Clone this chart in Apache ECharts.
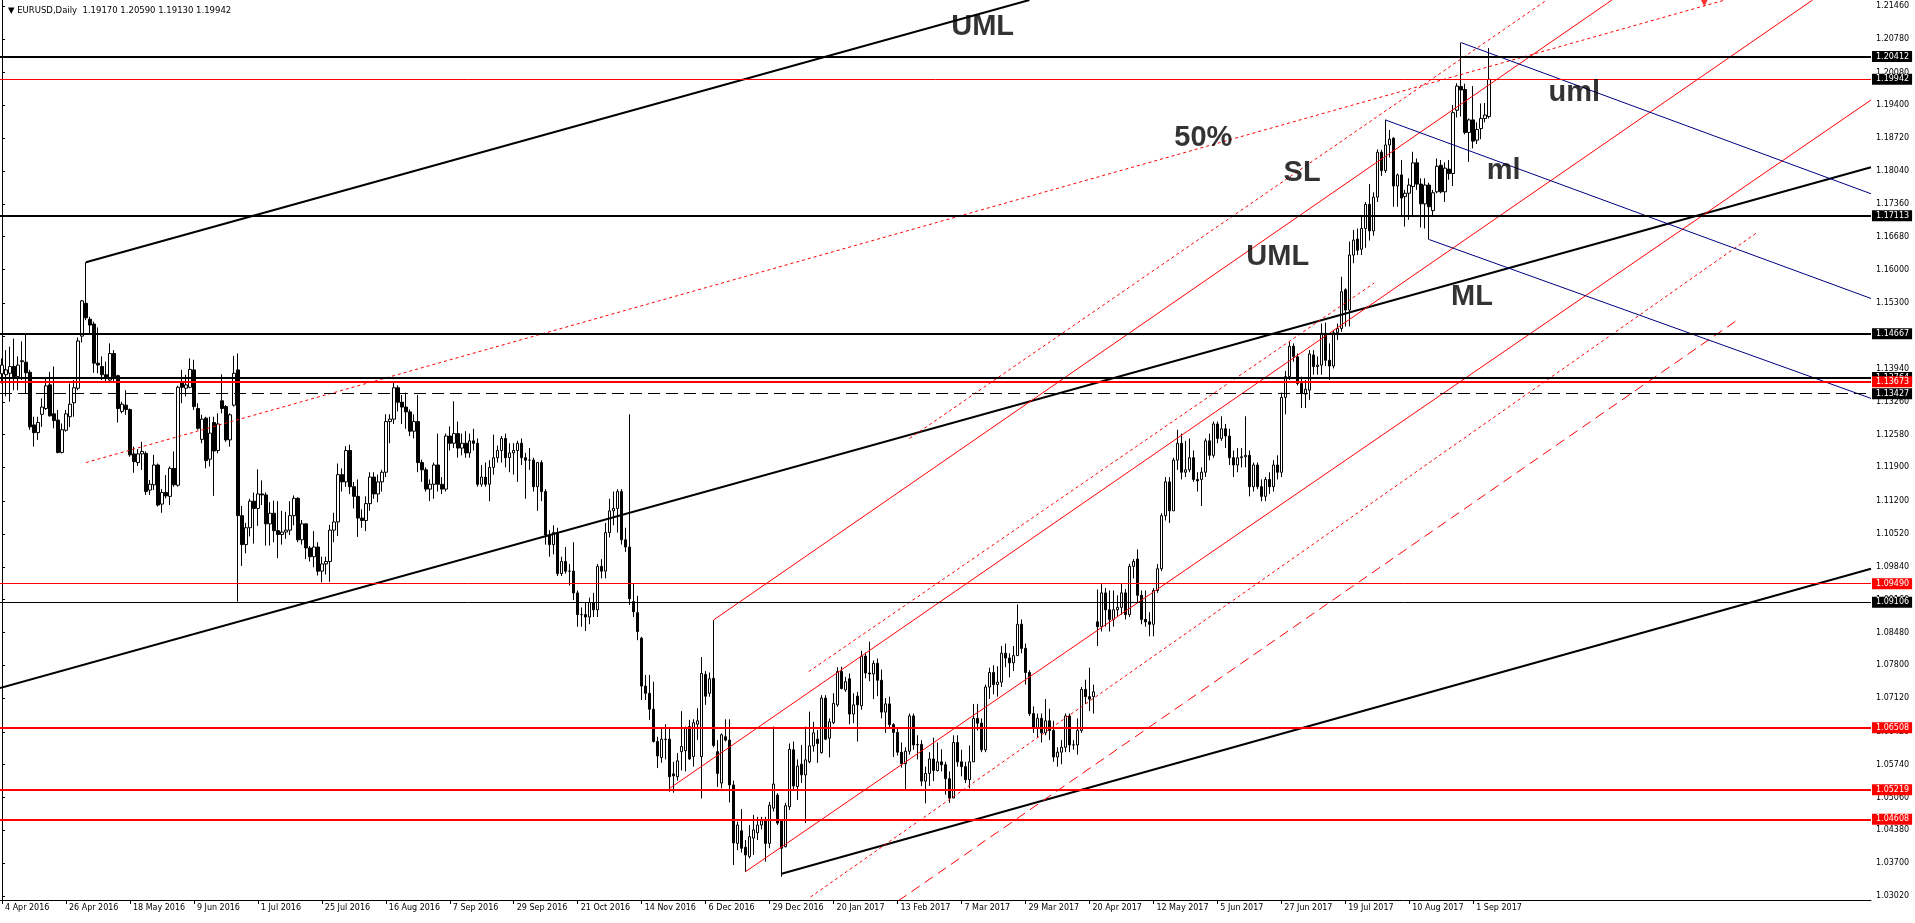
<!DOCTYPE html>
<html><head><meta charset="utf-8">
<script src="https://cdn.jsdelivr.net/npm/echarts@6/dist/echarts.min.js"></script>
<style>html,body{margin:0;padding:0;background:#fff;}#c{width:1915px;height:923px;}</style>
</head><body><div id="c"></div>
<script>
// ---------------- DATA ----------------
const titleText = '\u25BC EURUSD,Daily  1.19170 1.20590 1.19130 1.19942';
const xTickLabels = ['4 Apr 2016','26 Apr 2016','18 May 2016','9 Jun 2016','1 Jul 2016','25 Jul 2016','16 Aug 2016','7 Sep 2016','29 Sep 2016','21 Oct 2016','14 Nov 2016','6 Dec 2016','29 Dec 2016','20 Jan 2017','13 Feb 2017','7 Mar 2017','29 Mar 2017','20 Apr 2017','12 May 2017','5 Jun 2017','27 Jun 2017','19 Jul 2017','10 Aug 2017','1 Sep 2017'];
const yTickValues = [1.03020,1.03700,1.04380,1.05060,1.05740,1.06420,1.07120,1.07800,1.08480,1.09160,1.09840,1.10520,1.11200,1.11900,1.12580,1.13260,1.13940,1.14620,1.15300,1.16000,1.16680,1.17360,1.18040,1.18720,1.19400,1.20080,1.20780,1.21460];

// daily bars [open, high, low, close]
const bars2016Q2 = [
[1.1384,1.1416,1.1364,1.1402],[1.1382,1.1433,1.1337,1.1392],[1.1385,1.1440,1.1326,1.1399],[1.1399,1.1457,1.1350,1.1378],[1.1378,1.1420,1.1350,1.1402],
[1.1409,1.1451,1.1371,1.1411],[1.1408,1.1468,1.1344,1.1386],[1.1387,1.1392,1.1268,1.1274],[1.1278,1.1295,1.1233,1.1262],[1.1262,1.1295,1.1247,1.1283],
[1.1300,1.1333,1.1274,1.1315],[1.1312,1.1375,1.1309,1.1359],[1.1361,1.1388,1.1295,1.1297],[1.1301,1.1399,1.1271,1.1287],[1.1288,1.1309,1.1219,1.1221],
[1.1221,1.1281,1.1219,1.1268],[1.1267,1.1309,1.1264,1.1301],[1.1295,1.1364,1.1274,1.1321],[1.1324,1.1371,1.1295,1.1355],[1.1354,1.1459,1.1350,1.1452],
[1.1462,1.1537,1.1449,1.1535],[1.1530,1.1615,1.1495,1.1500],[1.1497,1.1502,1.1468,1.1485],[1.1487,1.1492,1.1386,1.1406],[1.1406,1.1480,1.1385,1.1402],
[1.1399,1.1420,1.1371,1.1382],[1.1382,1.1409,1.1368,1.1375],[1.1371,1.1447,1.1368,1.1426],[1.1426,1.1433,1.1368,1.1378],[1.1380,1.1382,1.1283,1.1312],
[1.1306,1.1326,1.1302,1.1321],[1.1319,1.1350,1.1299,1.1310],[1.1310,1.1312,1.1212,1.1216],[1.1218,1.1233,1.1179,1.1202],[1.1200,1.1228,1.1193,1.1218],
[1.1218,1.1243,1.1185,1.1223],[1.1219,1.1223,1.1133,1.1140],[1.1143,1.1164,1.1133,1.1155],[1.1154,1.1216,1.1143,1.1195],[1.1195,1.1198,1.1109,1.1112],
[1.1114,1.1145,1.1096,1.1138],[1.1138,1.1174,1.1126,1.1131],[1.1130,1.1192,1.1112,1.1188],[1.1188,1.1223,1.1150,1.1154],[1.1153,1.1359,1.1150,1.1356],
[1.1366,1.1392,1.1323,1.1356],[1.1354,1.1382,1.1337,1.1361],[1.1356,1.1416,1.1354,1.1393],[1.1392,1.1413,1.1309,1.1316],[1.1312,1.1323,1.1268,1.1271],
[1.1248,1.1299,1.1240,1.1290],[1.1292,1.1295,1.1188,1.1204],[1.1207,1.1295,1.1192,1.1261],[1.1283,1.1295,1.1131,1.1224],[1.1225,1.1302,1.1219,1.1280],
[1.1328,1.1383,1.1302,1.1312],[1.1316,1.1319,1.1243,1.1247],[1.1247,1.1302,1.1233,1.1299],[1.1319,1.1421,1.1316,1.1385],[1.1392,1.1426,1.0912,1.1090],
[1.1090,1.1110,1.0986,1.1030],[1.1030,1.1075,1.1012,1.1065],[1.1065,1.1125,1.1047,1.1120],[1.1120,1.1138,1.1032,1.1105]
];
const bars2016Q3 = [
[1.1105,1.1186,1.1069,1.1135],[1.1135,1.1163,1.1112,1.1133],[1.1133,1.1138,1.1028,1.1073],[1.1073,1.1118,1.1028,1.1095],[1.1095,1.1121,1.1035,1.1059],
[1.1059,1.1120,1.1002,1.1051],[1.1051,1.1100,1.1030,1.1056],[1.1056,1.1098,1.1042,1.1060],[1.1060,1.1120,1.1050,1.1090],[1.1090,1.1132,1.1070,1.1126],
[1.1126,1.1128,1.1035,1.1040],[1.1040,1.1081,1.1030,1.1073],[1.1073,1.1074,1.1000,1.1023],[1.1023,1.1027,1.0995,1.1005],[1.1005,1.1058,1.0983,1.1025],
[1.1025,1.1035,1.0966,1.0975],[1.0975,1.1005,1.0952,1.0990],[1.0990,1.1005,1.0968,1.0995],[1.0995,1.1071,1.0953,1.1060],[1.1060,1.1096,1.1035,1.1077],
[1.1077,1.1198,1.1048,1.1175],[1.1175,1.1188,1.1140,1.1160],[1.1160,1.1234,1.1150,1.1225],[1.1225,1.1237,1.1135,1.1150],[1.1150,1.1160,1.1105,1.1130],
[1.1130,1.1165,1.1046,1.1085],[1.1085,1.1103,1.1065,1.1080],[1.1080,1.1130,1.1058,1.1115],[1.1115,1.1180,1.1100,1.1170],[1.1170,1.1180,1.1125,1.1135],
[1.1135,1.1175,1.1118,1.1160],[1.1160,1.1185,1.1140,1.1180],[1.1180,1.1300,1.1170,1.1285],[1.1285,1.1300,1.1240,1.1290],[1.1290,1.1366,1.1280,1.1355],
[1.1355,1.1360,1.1306,1.1325],[1.1325,1.1340,1.1280,1.1315],[1.1315,1.1345,1.1270,1.1305],[1.1305,1.1310,1.1255,1.1265],[1.1265,1.1300,1.1250,1.1285],
[1.1285,1.1340,1.1180,1.1200],[1.1200,1.1206,1.1160,1.1185],[1.1185,1.1190,1.1140,1.1145],[1.1145,1.1165,1.1120,1.1155],[1.1155,1.1200,1.1125,1.1195],
[1.1195,1.1260,1.1140,1.1155],[1.1155,1.1170,1.1135,1.1145],[1.1145,1.1260,1.1140,1.1255],[1.1255,1.1275,1.1225,1.1240],[1.1240,1.1327,1.1230,1.1260],
[1.1260,1.1285,1.1210,1.1230],[1.1230,1.1260,1.1215,1.1240],[1.1240,1.1265,1.1210,1.1220],[1.1220,1.1260,1.1210,1.1245],[1.1245,1.1270,1.1225,1.1240],
[1.1240,1.1250,1.1150,1.1155],[1.1155,1.1195,1.1150,1.1170],[1.1170,1.1200,1.1150,1.1155],[1.1155,1.1205,1.1120,1.1190],[1.1190,1.1258,1.1175,1.1210],
[1.1210,1.1235,1.1200,1.1225],[1.1225,1.1255,1.1200,1.1250],[1.1250,1.1260,1.1190,1.1210],[1.1210,1.1240,1.1180,1.1220],[1.1220,1.1240,1.1175,1.1225],
[1.1225,1.1245,1.1160,1.1240]
];
const bars2016Q4 = [
[1.1240,1.1250,1.1195,1.1210],[1.1210,1.1220,1.1125,1.1205],[1.1205,1.1230,1.1185,1.1205],[1.1205,1.1210,1.1140,1.1150],[1.1150,1.1200,1.1100,1.1200],
[1.1200,1.1205,1.1120,1.1140],[1.1140,1.1145,1.1030,1.1050],[1.1050,1.1060,1.1005,1.1030],[1.1030,1.1070,1.1010,1.1055],[1.1055,1.1065,1.0965,1.0970],
[1.0970,1.1005,1.0965,1.0995],[1.0995,1.1025,1.0970,1.0975],[1.0975,1.0990,1.0945,1.0975],[1.0975,1.1035,1.0915,1.0930],[1.0930,1.0935,1.0860,1.0885],
[1.0885,1.0900,1.0860,1.0885],[1.0885,1.0910,1.0851,1.0880],[1.0880,1.0920,1.0865,1.0910],[1.0910,1.0930,1.0880,1.0895],[1.0895,1.0990,1.0880,1.0985],
[1.0985,1.1000,1.0960,1.0975],[1.0975,1.1075,1.0960,1.1055],[1.1055,1.1125,1.1045,1.1100],[1.1100,1.1140,1.1070,1.1105],[1.1105,1.1145,1.1055,1.1140],
[1.1140,1.1145,1.1030,1.1040],[1.1040,1.1065,1.1015,1.1025],[1.1025,1.1300,1.0905,1.0918],[1.0912,1.0950,1.0880,1.0891],[1.0889,1.0924,1.0832,1.0850],
[1.0836,1.0839,1.0708,1.0737],[1.0737,1.0760,1.0708,1.0722],[1.0722,1.0760,1.0667,1.0689],[1.0689,1.0746,1.0620,1.0622],[1.0622,1.0632,1.0567,1.0592],
[1.0589,1.0649,1.0578,1.0627],[1.0626,1.0658,1.0585,1.0627],[1.0627,1.0649,1.0518,1.0549],[1.0555,1.0580,1.0516,1.0551],[1.0549,1.0598,1.0541,1.0582],
[1.0601,1.0685,1.0562,1.0612],[1.0603,1.0653,1.0560,1.0651],[1.0653,1.0667,1.0584,1.0586],[1.0591,1.0668,1.0570,1.0661],[1.0658,1.0691,1.0625,1.0665],
[1.0591,1.0797,1.0504,1.0763],[1.0761,1.0768,1.0698,1.0716],[1.0722,1.0765,1.0715,1.0752],[1.0753,1.0874,1.0610,1.0614],[1.0601,1.0625,1.0528,1.0556],
[1.0536,1.0639,1.0525,1.0636],[1.0632,1.0668,1.0622,1.0625],[1.0625,1.0668,1.0496,1.0532],[1.0532,1.0541,1.0366,1.0412],[1.0411,1.0456,1.0397,1.0449],
[1.0437,1.0482,1.0392,1.0401],[1.0403,1.0418,1.0352,1.0387],[1.0384,1.0449,1.0380,1.0425],[1.0422,1.0470,1.0387,1.0439],[1.0433,1.0466,1.0418,1.0449],
[1.0449,1.0466,1.0440,1.0458],[1.0458,1.0466,1.0373,1.0411],[1.0411,1.0497,1.0401,1.0490],[1.0484,1.0653,1.0477,1.0534]
];
const bars2017Q1 = [
[1.0511,1.0515,1.0449,1.0453],[1.0458,1.0461,1.0342,1.0401],[1.0404,1.0495,1.0403,1.0489],[1.0487,1.0618,1.0480,1.0606],[1.0605,1.0622,1.0523,1.0530],
[1.0529,1.0585,1.0501,1.0571],[1.0575,1.0615,1.0536,1.0553],[1.0553,1.0653,1.0453,1.0584],[1.0580,1.0684,1.0577,1.0613],[1.0613,1.0663,1.0601,1.0640],
[1.0627,1.0646,1.0578,1.0618],[1.0599,1.0718,1.0597,1.0712],[1.0712,1.0718,1.0625,1.0627],[1.0629,1.0670,1.0589,1.0663],[1.0661,1.0722,1.0658,1.0701],
[1.0698,1.0776,1.0694,1.0767],[1.0767,1.0777,1.0730,1.0732],[1.0729,1.0756,1.0725,1.0746],[1.0752,1.0763,1.0658,1.0679],[1.0679,1.0722,1.0660,1.0698],
[1.0716,1.0725,1.0622,1.0698],[1.0696,1.0810,1.0688,1.0799],[1.0799,1.0806,1.0753,1.0764],[1.0764,1.0829,1.0747,1.0762],[1.0762,1.0790,1.0710,1.0784],
[1.0784,1.0794,1.0716,1.0749],[1.0749,1.0771,1.0670,1.0683],[1.0683,1.0712,1.0640,1.0700],[1.0700,1.0715,1.0652,1.0657],[1.0657,1.0660,1.0590,1.0641],
[1.0641,1.0650,1.0593,1.0600],[1.0600,1.0620,1.0568,1.0576],[1.0576,1.0610,1.0520,1.0602],[1.0602,1.0680,1.0595,1.0675],[1.0675,1.0680,1.0605,1.0615],
[1.0615,1.0635,1.0585,1.0616],[1.0616,1.0625,1.0530,1.0540],[1.0540,1.0570,1.0494,1.0556],[1.0556,1.0600,1.0530,1.0586],[1.0586,1.0630,1.0540,1.0562],
[1.0562,1.0620,1.0560,1.0580],[1.0580,1.0606,1.0560,1.0574],[1.0574,1.0580,1.0512,1.0545],[1.0545,1.0560,1.0495,1.0505],[1.0505,1.0635,1.0505,1.0620],
[1.0620,1.0635,1.0570,1.0580],[1.0580,1.0605,1.0550,1.0570],[1.0570,1.0580,1.0536,1.0543],[1.0543,1.0614,1.0525,1.0580],[1.0580,1.0700,1.0580,1.0670],
[1.0670,1.0700,1.0645,1.0660],[1.0660,1.0670,1.0600,1.0605],[1.0605,1.0740,1.0600,1.0735],[1.0735,1.0775,1.0710,1.0765],[1.0765,1.0780,1.0720,1.0740],
[1.0740,1.0778,1.0715,1.0745],[1.0745,1.0820,1.0735,1.0805],[1.0805,1.0825,1.0776,1.0795],[1.0795,1.0805,1.0755,1.0785],[1.0785,1.0820,1.0768,1.0800],
[1.0800,1.0906,1.0800,1.0865],[1.0865,1.0875,1.0805,1.0815],[1.0815,1.0825,1.0740,1.0765],[1.0765,1.0770,1.0675,1.0680],[1.0680,1.0695,1.0640,1.0650]
];
const bars2017Q2 = [
[1.0650,1.0680,1.0630,1.0670],[1.0670,1.0680,1.0620,1.0640],[1.0640,1.0710,1.0635,1.0665],[1.0665,1.0690,1.0625,1.0645],[1.0645,1.0665,1.0580,1.0590],
[1.0590,1.0610,1.0570,1.0600],[1.0600,1.0625,1.0575,1.0610],[1.0610,1.0680,1.0600,1.0675],[1.0675,1.0680,1.0600,1.0615],[1.0615,1.0625,1.0605,1.0615],
[1.0615,1.0670,1.0595,1.0645],[1.0645,1.0735,1.0640,1.0730],[1.0730,1.0750,1.0700,1.0715],[1.0715,1.0775,1.0685,1.0710],[1.0715,1.0740,1.0680,1.0725],
[1.0870,1.0937,1.0820,1.0860],[1.0860,1.0948,1.0850,1.0930],[1.0930,1.0940,1.0860,1.0895],[1.0895,1.0935,1.0850,1.0875],[1.0875,1.0935,1.0860,1.0895],
[1.0895,1.0925,1.0880,1.0900],[1.0900,1.0950,1.0885,1.0930],[1.0930,1.0938,1.0875,1.0885],[1.0885,1.0990,1.0880,1.0985],[1.0985,1.1000,1.0960,1.0995],
[1.1000,1.1020,1.0910,1.0925],[1.0925,1.0935,1.0865,1.0875],[1.0875,1.0935,1.0860,1.0870],[1.0870,1.0890,1.0840,1.0865],[1.0865,1.0940,1.0840,1.0935],
[1.0935,1.0990,1.0930,1.0980],[1.0980,1.1095,1.0975,1.1090],[1.1090,1.1170,1.1080,1.1160],[1.1160,1.1170,1.1075,1.1100],[1.1100,1.1210,1.1100,1.1205],
[1.1205,1.1268,1.1185,1.1240],[1.1240,1.1260,1.1165,1.1180],[1.1180,1.1245,1.1170,1.1185],[1.1185,1.1250,1.1180,1.1210],[1.1210,1.1225,1.1160,1.1165],
[1.1165,1.1180,1.1140,1.1162],[1.1165,1.1190,1.1110,1.1180],[1.1180,1.1250,1.1170,1.1245],[1.1245,1.1260,1.1205,1.1215],[1.1215,1.1285,1.1210,1.1280],
[1.1280,1.1285,1.1240,1.1250],[1.1250,1.1296,1.1245,1.1270],[1.1270,1.1280,1.1230,1.1255],[1.1255,1.1270,1.1195,1.1210],[1.1210,1.1225,1.1170,1.1195],
[1.1195,1.1230,1.1180,1.1210],[1.1210,1.1230,1.1190,1.1212],[1.1212,1.1296,1.1190,1.1215],[1.1215,1.1225,1.1130,1.1150],[1.1150,1.1200,1.1140,1.1195],
[1.1195,1.1200,1.1145,1.1150],[1.1150,1.1165,1.1120,1.1130],[1.1130,1.1170,1.1120,1.1165],[1.1165,1.1180,1.1135,1.1150],[1.1150,1.1205,1.1140,1.1195],
[1.1195,1.1215,1.1165,1.1180],[1.1180,1.1345,1.1170,1.1335],[1.1335,1.1390,1.1300,1.1378],[1.1378,1.1450,1.1371,1.1441],[1.1441,1.1447,1.1409,1.1420]
];
const bars2017Q3 = [
[1.1419,1.1426,1.1360,1.1364],[1.1364,1.1378,1.1313,1.1343],[1.1342,1.1371,1.1313,1.1352],[1.1350,1.1433,1.1330,1.1425],[1.1423,1.1433,1.1382,1.1399],
[1.1399,1.1420,1.1382,1.1402],[1.1402,1.1488,1.1382,1.1468],[1.1468,1.1490,1.1400,1.1412],[1.1412,1.1447,1.1371,1.1400],[1.1400,1.1475,1.1395,1.1469],
[1.1469,1.1488,1.1454,1.1478],[1.1478,1.1585,1.1471,1.1554],[1.1558,1.1561,1.1482,1.1516],[1.1516,1.1658,1.1482,1.1630],[1.1630,1.1682,1.1613,1.1661],
[1.1663,1.1685,1.1630,1.1640],[1.1642,1.1713,1.1630,1.1685],[1.1685,1.1740,1.1645,1.1735],[1.1735,1.1777,1.1660,1.1680],[1.1680,1.1760,1.1670,1.1750],
[1.1750,1.1849,1.1740,1.1843],[1.1843,1.1848,1.1794,1.1805],[1.1805,1.1910,1.1800,1.1858],[1.1858,1.1889,1.1832,1.1870],[1.1872,1.1874,1.1730,1.1773],
[1.1773,1.1799,1.1730,1.1796],[1.1796,1.1827,1.1713,1.1748],[1.1751,1.1765,1.1689,1.1758],[1.1758,1.1789,1.1703,1.1775],[1.1772,1.1844,1.1710,1.1821],
[1.1821,1.1830,1.1765,1.1777],[1.1777,1.1789,1.1687,1.1736],[1.1736,1.1789,1.1685,1.1775],[1.1775,1.1780,1.1662,1.1730],[1.1722,1.1765,1.1710,1.1759],
[1.1761,1.1830,1.1758,1.1814],[1.1816,1.1827,1.1758,1.1761],[1.1761,1.1822,1.1740,1.1810],[1.1808,1.1827,1.1786,1.1799],[1.1799,1.1941,1.1773,1.1925],
[1.1930,1.1986,1.1915,1.1980],[1.1979,1.2070,1.1917,1.1972],[1.1973,1.1985,1.1880,1.1884],[1.1884,1.1913,1.1823,1.1910],[1.1910,1.1980,1.1851,1.1866],
[1.1868,1.1905,1.1860,1.1890],[1.1892,1.1944,1.1870,1.1913],[1.1913,1.1945,1.1905,1.1920],[1.1917,1.2059,1.1913,1.1994]
];

// horizontal levels
const levelValues = [1.20412, 1.19942, 1.17113, 1.14667, 1.13764, 1.13673, 1.13427, 1.09490, 1.09106, 1.06508, 1.05219, 1.04608];

// trend lines: [barIndex, price] end points
const blackUML = [[21, 1.1615], [257, 1.21584]];
const blackML = [[-0.5, 1.0733], [467.5, 1.1812]];
const blackLML = [[195, 1.0348], [467.5, 1.0980]];
const red50 = [[21, 1.1200], [431, 1.21584]];
const redA = [[178, 1.0874], [402.7, 1.21584]];
const redB = [[167, 1.0525], [452.9, 1.21584]];
const redC = [[186, 1.03525], [467.5, 1.19512]];
const redDot1 = [[227, 1.1250], [386.4, 1.21584]];
const redDot2 = [[202.25, 1.0300], [439.25, 1.1678]];
const redDot3 = [[201.8, 1.0767], [343.25, 1.1572]];
const redDash = [[224.2, 1.0292], [434, 1.1495]];
const blueUml = [[365, 1.2070], [467.5, 1.1757]];
const blueMl = [[346, 1.1910], [467.5, 1.1540]];
const blueLml = [[357, 1.1662], [467.5, 1.1333]];
// arrow object at the top edge [barIndex, price]
const arrowMark = [[425.8, 1.21563]];

// text annotations [text, barIndex, price]
const notes = [['UML', 245.3, 1.2103], ['50%', 300.5, 1.1873], ['SL', 325.2, 1.1799], ['ml', 375.6, 1.1804], ['uml', 393.3, 1.1966], ['UML', 319.1, 1.1625], ['ML', 367.7, 1.1544]];

// ---------------- BUILD ----------------
const bars = [].concat(bars2016Q2, bars2016Q3, bars2016Q4, bars2017Q1, bars2017Q2, bars2017Q3);
const SLOTS = 468;
const cats = [];
for (let i = 0; i < SLOTS; i++) cats.push(String(i));
const candleData = bars.map(b => [b[0], b[3], b[2], b[1]]);
const isTick = idx => idx % 16 === 0 && (idx / 16) < xTickLabels.length;

const levelStyles = [
  {c:'#000', w:2, t:'solid', tag:'#000'},
  {c:'#f00', w:1, t:'solid', tag:'#000'},
  {c:'#000', w:2, t:'solid', tag:'#000'},
  {c:'#000', w:2, t:'solid', tag:'#000'},
  {c:'#000', w:2, t:'solid', tag:'#000'},
  {c:'#f00', w:2, t:'solid', tag:'#f00'},
  {c:'#000', w:1, t:[12,6], tag:'#000'},
  {c:'#f00', w:1, t:'solid', tag:'#f00'},
  {c:'#000', w:1, t:'solid', tag:'#000'},
  {c:'#f00', w:2, t:'solid', tag:'#f00'},
  {c:'#f00', w:2, t:'solid', tag:'#f00'},
  {c:'#f00', w:2, t:'solid', tag:'#f00'}
];

const FONT = 'DejaVu Sans';

function lineSeries(pts, color, width, type) {
  return {type:'line', xAxisIndex:1, yAxisIndex:0, data:pts, showSymbol:false, symbol:'none',
    lineStyle:{color:color, width:width, type:type}, silent:true, z:4, clip:true, animation:false};
}

const series = [
  {type:'candlestick', xAxisIndex:0, yAxisIndex:0, data:candleData, barWidth:3, z:3,
   itemStyle:{color:'#fff', color0:'#000', borderColor:'#000', borderColor0:'#000', borderWidth:1}},
  lineSeries(blackUML, '#000', 2, 'solid'),
  lineSeries(blackML, '#000', 2, 'solid'),
  lineSeries(blackLML, '#000', 2, 'solid'),
  lineSeries(red50, '#f00', 1, [3,3]),
  lineSeries(redA, '#f00', 1, 'solid'),
  lineSeries(redB, '#f00', 1, 'solid'),
  lineSeries(redC, '#f00', 1, 'solid'),
  lineSeries(redDot1, '#f00', 1, [3,3]),
  lineSeries(redDot2, '#f00', 1, [3,3]),
  lineSeries(redDot3, '#f00', 1, [3,3]),
  lineSeries(redDash, '#f00', 1, [10,6]),
  lineSeries(blueUml, '#000080', 1, 'solid'),
  lineSeries(blueMl, '#000080', 1, 'solid'),
  lineSeries(blueLml, '#000080', 1, 'solid'),
  {type:'line', xAxisIndex:1, yAxisIndex:0, data:[], z:6, silent:true,
   markLine:{symbol:['none','none'], silent:true, animation:false, precision:5,
     data: levelValues.map((v, k) => ({yAxis:v,
       lineStyle:{color:levelStyles[k].c, width:levelStyles[k].w, type:levelStyles[k].t},
       label:{show:true, position:'end', distance:1, formatter:v.toFixed(5), color:'#fff',
              backgroundColor:levelStyles[k].tag, padding:[2,3,1,4], fontSize:8, fontFamily:FONT}}))}},
  {type:'scatter', xAxisIndex:1, yAxisIndex:0, data:arrowMark, symbol:'triangle', symbolRotate:180,
   symbolSize:[11,11], itemStyle:{color:'#f00'}, z:8, silent:true, clip:false},
  {type:'scatter', xAxisIndex:1, yAxisIndex:0, symbolSize:0, z:7, silent:true,
   data: notes.map(n => ({value:[n[1], n[2]], name:n[0]})),
   label:{show:true, position:'inside', formatter:p => p.name, color:'#000', fontSize:29,
          fontWeight:'bold', fontFamily:'Liberation Sans'}}
];

const chart = echarts.init(document.getElementById('c'), null, {renderer:'canvas'});
chart.setOption({
  animation:false,
  backgroundColor:'#fff',
  title:{text:titleText, left:3, top:1, textStyle:{fontSize:8.5, fontWeight:'normal', fontFamily:FONT, color:'#000'}},
  grid:{left:-1, right:44, top:0, bottom:23, containLabel:false},
  xAxis:[
    {type:'category', data:cats, boundaryGap:true,
     axisLine:{show:true, lineStyle:{color:'#000', width:1}},
     axisTick:{show:true, interval:(i)=>isTick(i), alignWithLabel:true, length:4, lineStyle:{color:'#000'}},
     axisLabel:{interval:(i)=>isTick(i), formatter:(v, i)=>xTickLabels[i/16], align:'left', margin:4,
                padding:[0,0,0,3], fontSize:8, fontFamily:FONT, color:'#000'},
     splitLine:{show:false}},
    {type:'value', min:-0.5, max:SLOTS-0.5, show:false}
  ],
  yAxis:[{type:'value', position:'right', min:1.02937, max:1.21584,
    axisLine:{show:true, lineStyle:{color:'#000', width:1}},
    splitLine:{show:false},
    axisTick:{show:true, customValues:yTickValues, length:3, lineStyle:{color:'#000'}},
    axisLabel:{customValues:yTickValues, formatter:v=>v.toFixed(5), margin:5, fontSize:8, fontFamily:FONT, color:'#000'}}],
  series:series
});
</script></body></html>
